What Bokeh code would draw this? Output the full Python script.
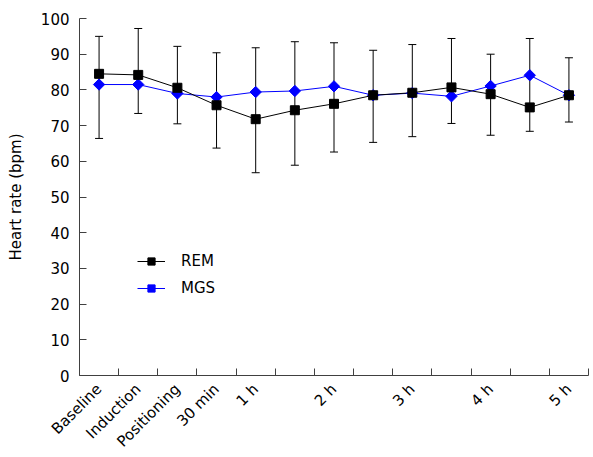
import math
from bokeh.plotting import figure
from bokeh.layouts import row, column
from bokeh.models import (ColumnDataSource, Whisker, TeeHead, FixedTicker,
                          Legend, LegendItem, Range1d, Spacer)
from bokeh.embed import file_html
from bokeh.resources import INLINE

categories = ["Baseline", "Induction", "Positioning", "30 min", "1 h", "",
              "2 h", "", "3 h", "", "4 h", "", "5 h"]
rem = [84.5, 84.2, 80.6, 75.7, 71.8, 74.3, 76.1, 78.5, 79.2, 80.7, 78.8, 75.1, 78.5]
mgs = [81.5, 81.5, 79.0, 78.0, 79.4, 79.7, 81.0, 78.5, 79.1, 78.2, 81.1, 84.1, 78.5]
err_upper = [95.0, 97.2, 92.2, 90.4, 91.8, 93.5, 93.2, 91.1, 92.7, 94.4, 90.0, 94.4, 89.0]
err_lower = [66.4, 73.4, 70.5, 63.7, 56.8, 58.9, 62.6, 65.3, 66.9, 70.6, 67.3, 68.4, 71.0]
y_ticks = [0, 10, 20, 30, 40, 50, 60, 70, 80, 90, 100]

FONT = "DejaVu Sans"
FS = "15px"
AX = "#404040"

n = len(categories)
xs = list(range(n))

p = figure(frame_width=509, frame_height=357, output_backend="svg",
           toolbar_location=None,
           x_range=Range1d(-0.5, n - 0.5), y_range=Range1d(0, 100),
           min_border_left=0, min_border_right=1, min_border_top=12,
           min_border_bottom=0)
p.grid.visible = False
p.outline_line_color = None

# x axis
p.xaxis.ticker = FixedTicker(ticks=xs, minor_ticks=[i - 0.5 for i in range(n + 1)])
p.xaxis.major_label_overrides = {i: c for i, c in enumerate(categories)}
p.xaxis.major_label_orientation = math.pi / 4
p.xaxis.major_tick_line_color = None
p.xaxis.minor_tick_in = 7
p.xaxis.minor_tick_out = 0
p.xaxis.minor_tick_line_color = AX
p.xaxis.axis_line_color = AX
p.xaxis.major_label_standoff = 5
p.xaxis.major_label_text_font = FONT
p.xaxis.major_label_text_font_size = FS
p.xaxis.major_label_text_color = "black"

# y axis
p.yaxis.ticker = FixedTicker(ticks=y_ticks)
p.yaxis.major_tick_in = 7
p.yaxis.major_tick_out = 0
p.yaxis.minor_tick_line_color = None
p.yaxis.major_tick_line_color = AX
p.yaxis.axis_line_color = AX
p.yaxis.major_label_standoff = 10
p.yaxis.major_label_text_font = FONT
p.yaxis.major_label_text_font_size = FS
p.yaxis.major_label_text_color = "black"
p.yaxis.axis_label = "Heart rate (bpm)"
p.yaxis.axis_label_text_font = FONT
p.yaxis.axis_label_text_font_size = FS
p.yaxis.axis_label_text_font_style = "normal"
p.yaxis.axis_label_text_color = "black"
p.yaxis.axis_label_standoff = 13

src = ColumnDataSource(dict(x=xs, rem=rem, mgs=mgs, up=err_upper, lo=err_lower))

w = Whisker(base="x", upper="up", lower="lo", source=src, line_color="black",
            line_width=1,
            upper_head=TeeHead(size=8, line_color="black", line_width=1),
            lower_head=TeeHead(size=8, line_color="black", line_width=1))
p.add_layout(w)

l_mgs = p.line("x", "mgs", source=src, line_color="blue", line_width=1)
l_rem = p.line("x", "rem", source=src, line_color="black", line_width=1)
m_mgs = p.scatter("x", "mgs", source=src, marker="square", angle=math.pi / 4,
                  size=8, fill_color="blue", line_color="blue")
m_rem = p.scatter("x", "rem", source=src, marker="square", size=9,
                  fill_color="black", line_color="black")

legend = Legend(items=[LegendItem(label="REM", renderers=[l_rem, m_rem]),
                       LegendItem(label="MGS", renderers=[l_mgs, m_mgs])],
                location=(58, 78), padding=0, spacing=9, label_height=18,
                glyph_height=18, glyph_width=28, label_standoff=16,
                border_line_color=None, background_fill_alpha=0,
                label_text_font=FONT, label_text_font_size=FS,
                label_text_color="black")
p.add_layout(legend)

layout = column(Spacer(height=6), row(Spacer(width=3), p, spacing=0), spacing=0)

open("out.html", "w").write(file_html(layout, INLINE))
